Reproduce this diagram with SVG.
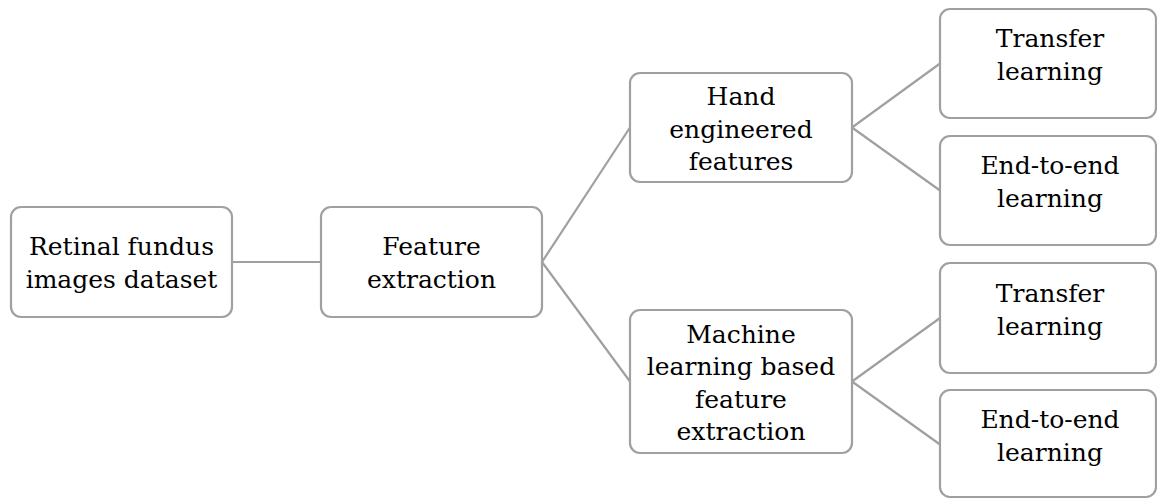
<svg xmlns="http://www.w3.org/2000/svg" width="1157" height="498" viewBox="0 0 1157 498">
<style>
.box{fill:#ffffff;stroke:#a0a0a0;stroke-width:2.2}
.lnk{stroke:#a0a0a0;stroke-width:2.2;fill:none}
text{font-family:'DejaVu Serif',serif;font-size:25px;fill:#000;text-anchor:middle}
</style>
<rect width="1157" height="498" fill="#ffffff"/>
<g id="connectors">
<line class="lnk" x1="232" y1="262" x2="321" y2="262"/>
<line class="lnk" x1="542" y1="262" x2="630" y2="127.5"/>
<line class="lnk" x1="542" y1="262" x2="630" y2="381.5"/>
<line class="lnk" x1="852" y1="127.5" x2="940" y2="63.5"/>
<line class="lnk" x1="852" y1="127.5" x2="940" y2="190.5"/>
<line class="lnk" x1="852" y1="381.5" x2="940" y2="318"/>
<line class="lnk" x1="852" y1="381.5" x2="940" y2="444.5"/>
</g>
<g id="n1">
<rect class="box" x="11" y="207" width="221" height="110" rx="10"/>
<text x="121.5" y="255">Retinal fundus</text>
<text x="121.5" y="288">images dataset</text>
</g>
<g id="n2">
<rect class="box" x="321" y="207" width="221" height="110" rx="10"/>
<text x="431.5" y="255">Feature</text>
<text x="431.5" y="288">extraction</text>
</g>
<g id="n3">
<rect class="box" x="630" y="73" width="222" height="109" rx="10"/>
<text x="741" y="105">Hand</text>
<text x="741" y="137.5">engineered</text>
<text x="741" y="170">features</text>
</g>
<g id="n4">
<rect class="box" x="630" y="310" width="222" height="143" rx="10"/>
<text x="741" y="342.5">Machine</text>
<text x="741" y="375">learning based</text>
<text x="741" y="407.5">feature</text>
<text x="741" y="440">extraction</text>
</g>
<g id="n5">
<rect class="box" x="940" y="9" width="216" height="109" rx="10"/>
<text x="1050" y="47">Transfer</text>
<text x="1050" y="80">learning</text>
</g>
<g id="n6">
<rect class="box" x="940" y="136" width="216" height="109" rx="10"/>
<text x="1050" y="174">End-to-end</text>
<text x="1050" y="207">learning</text>
</g>
<g id="n7">
<rect class="box" x="940" y="263" width="216" height="110" rx="10"/>
<text x="1050" y="301.5">Transfer</text>
<text x="1050" y="334.5">learning</text>
</g>
<g id="n8">
<rect class="box" x="940" y="390" width="216" height="107" rx="10"/>
<text x="1050" y="428">End-to-end</text>
<text x="1050" y="461">learning</text>
</g>
</svg>
